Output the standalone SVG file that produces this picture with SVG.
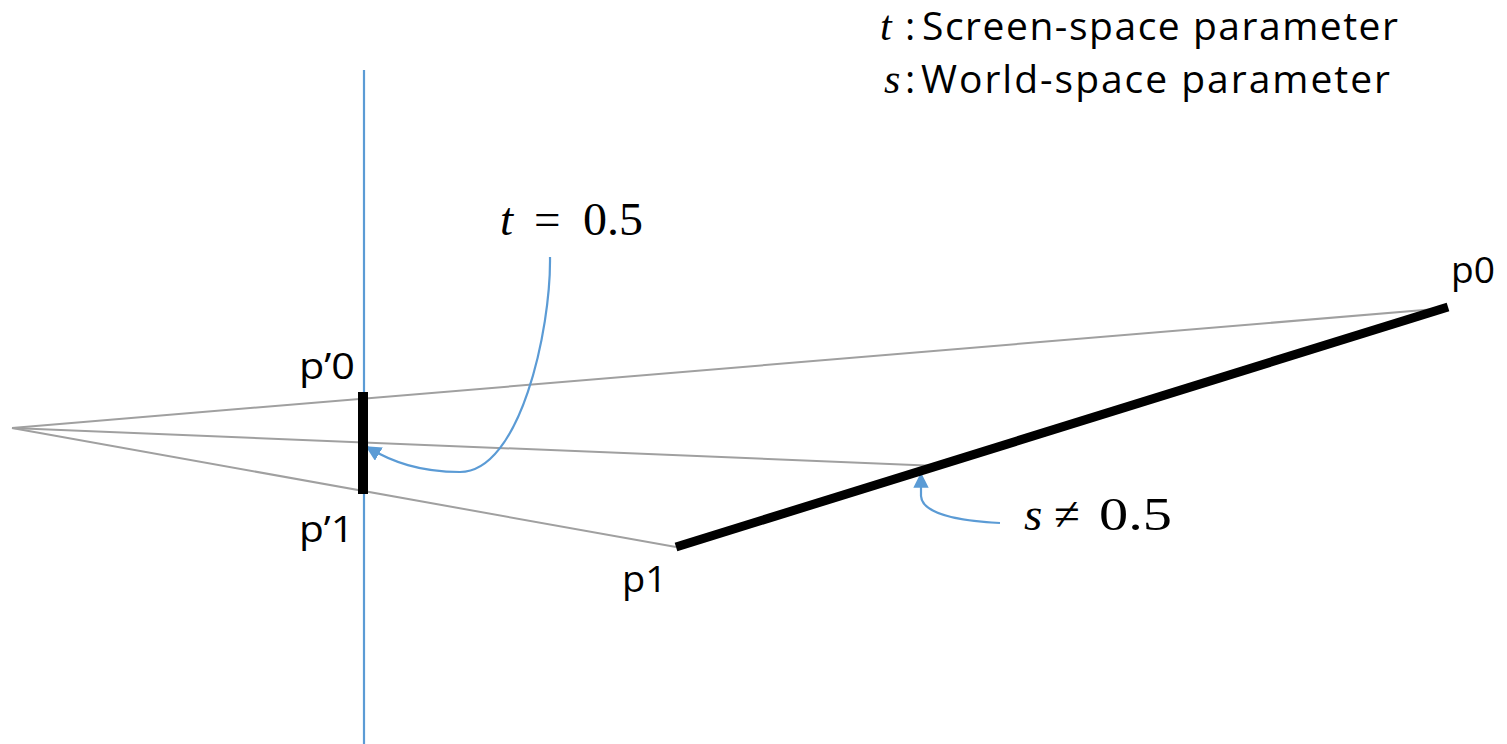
<svg xmlns="http://www.w3.org/2000/svg" width="1507" height="744" viewBox="0 0 1507 744">
<style>
.lbl{font-family:"Open Sans","Liberation Sans",sans-serif;font-size:36px;fill:#000}
.leg{font-family:"Open Sans","Liberation Sans",sans-serif;font-size:39px;fill:#000}
.math{font-family:"Liberation Serif","DejaVu Serif",serif;font-size:47px;fill:#000}
.mi{font-style:italic}
.ray{stroke:#a0a0a0;stroke-width:2;fill:none}
.blue{stroke:#5b9bd5;stroke-width:2.2;fill:none}
</style>
<defs>
<marker id="ah" viewBox="0 0 10 10" refX="9" refY="5" markerWidth="7" markerHeight="7" orient="auto">
<path d="M0,0 L10,5 L0,10 z" fill="#5b9bd5"/>
</marker>
</defs>
<rect width="1507" height="744" fill="#fff"/>
<g id="connectors">
<line class="blue" x1="364" y1="70" x2="364" y2="744"/>
<line class="ray" x1="12" y1="428" x2="1448" y2="308"/>
<line class="ray" x1="12" y1="428" x2="938" y2="466"/>
<line class="ray" x1="12" y1="428" x2="676" y2="547"/>
<path class="blue" d="M550,257 C551,330 520,472 460,472 C420,472 392,462 367,447" marker-end="url(#ah)"/>
<path class="blue" d="M1000,523 C960,521 922,514 921,496 L921,474" marker-end="url(#ah)"/>
</g>
<g id="screen-segment">
<line x1="363" y1="392" x2="363" y2="494" stroke="#000" stroke-width="10"/>
</g>
<g id="world-segment">
<line x1="676" y1="547" x2="1448" y2="307" stroke="#000" stroke-width="9"/>
</g>
<g id="label-p0"><text class="lbl" x="1451" y="283" textLength="44" lengthAdjust="spacingAndGlyphs">p0</text></g>
<g id="label-p1"><text class="lbl" x="622" y="592" textLength="45" lengthAdjust="spacingAndGlyphs">p1</text></g>
<g id="label-pp0"><text class="lbl" x="299" y="379" textLength="56" lengthAdjust="spacingAndGlyphs">p’0</text></g>
<g id="label-pp1"><text class="lbl" x="299" y="542" textLength="55" lengthAdjust="spacingAndGlyphs">p’1</text></g>
<g id="label-t"><text class="math"><tspan class="mi" x="500" y="235">t</tspan><tspan x="534" y="235">=</tspan><tspan x="583" y="235" textLength="60" lengthAdjust="spacingAndGlyphs">0.5</tspan></text></g>
<g id="label-s"><text class="math"><tspan class="mi" x="1024" y="530">s</tspan><tspan x="1054" y="530">≠</tspan><tspan x="1099" y="530" textLength="73" lengthAdjust="spacingAndGlyphs">0.5</tspan></text></g>
<g id="legend">
<text class="math" style="font-size:42px" x="880" y="40"><tspan class="mi">t</tspan></text>
<text class="leg" x="905" y="40">:</text>
<text class="leg" x="922" y="40" textLength="476" lengthAdjust="spacing">Screen-space parameter</text>
<text class="math" style="font-size:42px" x="884" y="93"><tspan class="mi">s</tspan></text>
<text class="leg" x="905" y="93">:</text>
<text class="leg" x="921" y="93" textLength="469" lengthAdjust="spacing">World-space parameter</text>
</g>
</svg>
